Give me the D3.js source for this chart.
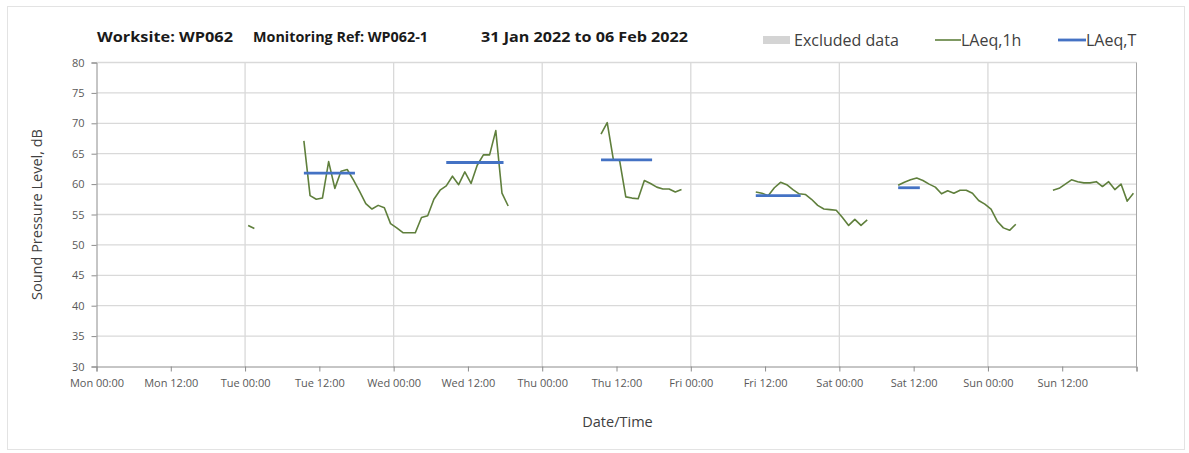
<!DOCTYPE html>
<html>
<head>
  <meta charset="utf-8">
  <script src="https://d3js.org/d3.v7.min.js"></script>
  <style>
    body { margin: 0; background: #fff; }
    text { font-family: "Open Sans", "Noto Sans", sans-serif; }
  </style>
</head>
<body>
<script>
  "use strict";

  /*
    Data: hourly LAeq values, one point per hour
    plotted at hh:30, grouped in the runs where the line is unbroken
  */
  var weekStart = new Date(2022, 0, 31, 0, 0);
  var weekEnd = new Date(2022, 1, 7, 0, 0);

  var segmentStarts = ["2022-02-01 00:30", "2022-02-01 09:30", "2022-02-03 09:30",
                       "2022-02-04 10:30", "2022-02-05 09:30", "2022-02-06 10:30"];

  var tueEarly = [53.2, 52.7];
  var tueWed = [67.1, 58.1, 57.5, 57.7, 63.7, 59.3, 62.1, 62.4, 60.7, 58.8, 56.8, 55.9,
                56.5, 56.1, 53.5, 52.8, 52.0, 52.0, 52.0, 54.5, 54.8, 57.5, 59.0, 59.7,
                61.3, 59.9, 62.0, 60.1, 63.1, 64.8, 64.8, 68.8, 58.5, 56.4];
  var thu = [68.2, 70.1, 64.0, 63.9, 57.9, 57.7, 57.6, 60.6, 60.1, 59.5, 59.2, 59.2, 58.7, 59.1];
  var friSat = [58.7, 58.5, 58.1, 59.4, 60.3, 59.9, 59.1, 58.4, 58.3, 57.5, 56.5, 55.9,
                55.8, 55.7, 54.5, 53.2, 54.2, 53.2, 54.1];
  var satSun = [59.8, 60.3, 60.7, 61.0, 60.6, 60.0, 59.5, 58.4, 58.9, 58.5, 59.0, 59.0,
                58.5, 57.3, 56.7, 55.9, 53.9, 52.8, 52.4, 53.4];
  var sun = [59.0, 59.3, 60.0, 60.7, 60.4, 60.2, 60.2, 60.4, 59.6, 60.4, 59.1, 60.0, 57.2, 58.5];

  var segmentValues = [tueEarly, tueWed, thu, friSat, satSun, sun];

  // LAeq,T periods (one horizontal bar each)
  var periodStarts = ["2022-02-01 09:30", "2022-02-02 08:30", "2022-02-03 09:30",
                      "2022-02-04 10:30", "2022-02-05 09:30"];
  var periodEnds = ["2022-02-01 17:45", "2022-02-02 17:45", "2022-02-03 17:45",
                    "2022-02-04 17:45", "2022-02-05 13:00"];
  var periodValues = [61.8, 63.55, 64.0, 58.1, 59.4];

  var yTicks = [30, 35, 40, 45, 50, 55, 60, 65, 70, 75, 80];

  var parseTime = d3.timeParse("%Y-%m-%d %H:%M");
  var hourMs = 3600 * 1000;

  var segments = segmentValues.map(function(vals, i) {
    var t0 = parseTime(segmentStarts[i]);
    return vals.map(function(v, j) {
      return { t: new Date(t0.getTime() + j * hourMs), v: v };
    });
  });

  var periods = periodValues.map(function(v, i) {
    return { t0: parseTime(periodStarts[i]), t1: parseTime(periodEnds[i]), v: v };
  });

  /*
    Layout
  */
  var W = 1189, H = 453;
  var plot = { left: 96.5, right: 1136.5, top: 62.5, bottom: 366.5 };

  var svg = d3.select("body").append("svg")
      .attr("width", W)
      .attr("height", H);

  svg.append("rect")
      .attr("x", 7.5).attr("y", 6.5)
      .attr("width", 1177).attr("height", 443)
      .attr("fill", "#fff")
      .attr("stroke", "#e3e3e3");

  var x = d3.scaleTime().domain([weekStart, weekEnd]).range([plot.left, plot.right]);
  var y = d3.scaleLinear().domain([30, 80]).range([plot.bottom, plot.top]);

  // horizontal gridlines
  svg.append("g")
    .selectAll("line")
    .data(yTicks.filter(function(d) { return d > 30; }))
    .join("line")
      .attr("x1", plot.left).attr("x2", plot.right)
      .attr("y1", function(d) { return y(d); })
      .attr("y2", function(d) { return y(d); })
      .attr("stroke", "#d9d9d9")
      .attr("stroke-width", 1.3);

  // vertical gridlines at midnight
  var days = d3.timeDay.range(d3.timeDay.offset(weekStart, 1), weekEnd);
  svg.append("g")
    .selectAll("line")
    .data(days)
    .join("line")
      .attr("x1", function(d) { return x(d); })
      .attr("x2", function(d) { return x(d); })
      .attr("y1", plot.top).attr("y2", plot.bottom)
      .attr("stroke", "#d9d9d9")
      .attr("stroke-width", 1.3);

  svg.append("line")
      .attr("x1", plot.right).attr("x2", plot.right)
      .attr("y1", plot.top).attr("y2", plot.bottom)
      .attr("stroke", "#a6a6a6");

  // y axis
  var yAxis = d3.axisLeft(y).tickValues(yTicks).tickSize(5).tickPadding(7).tickFormat(d3.format("d"));
  var gy = svg.append("g")
      .attr("transform", "translate(" + plot.left + ",0)")
      .call(yAxis);
  gy.select(".domain").attr("stroke", "#8c8c8c");
  gy.selectAll(".tick line").attr("stroke", "#8c8c8c");
  gy.selectAll(".tick text")
      .attr("fill", "#595959")
      .style("font-size", "11px")
      .style("font-family", "'Open Sans', sans-serif");

  // x axis, ticks every 12 hours
  var xTicks = d3.timeHour.every(12).range(weekStart, d3.timeHour.offset(weekEnd, 1));
  var xAxis = d3.axisBottom(x)
      .tickValues(xTicks)
      .tickSize(5)
      .tickPadding(8)
      .tickFormat(function(d) { return +d === +weekEnd ? "" : d3.timeFormat("%a %H:%M")(d); });
  var gx = svg.append("g")
      .attr("transform", "translate(0," + plot.bottom + ")")
      .call(xAxis);
  gx.select(".domain").attr("stroke", "#8c8c8c");
  gx.selectAll(".tick line").attr("stroke", "#8c8c8c");
  gx.selectAll(".tick text")
      .attr("fill", "#595959")
      .style("font-size", "11px")
      .style("font-family", "'Open Sans', sans-serif");

  // LAeq,1h line
  var line = d3.line()
      .x(function(d) { return x(d.t); })
      .y(function(d) { return y(d.v); });

  svg.append("g")
    .selectAll("path")
    .data(segments)
    .join("path")
      .attr("d", line)
      .attr("fill", "none")
      .attr("stroke", "#5f7f3c")
      .attr("stroke-width", 1.6)
      .attr("stroke-linejoin", "round");

  // LAeq,T bars
  svg.append("g")
    .selectAll("line")
    .data(periods)
    .join("line")
      .attr("x1", function(d) { return x(d.t0); })
      .attr("x2", function(d) { return x(d.t1); })
      .attr("y1", function(d) { return y(d.v); })
      .attr("y2", function(d) { return y(d.v); })
      .attr("stroke", "#4472c4")
      .attr("stroke-width", 2.8);

  /*
    Titles and legend
  */
  var titleParts = [["Worksite: WP062", 97, 136], ["Monitoring Ref: WP062-1", 253, 175],
                    ["31 Jan 2022 to 06 Feb 2022", 481, 207]];
  svg.selectAll(".title")
    .data(titleParts)
    .join("text")
      .attr("class", "title")
      .attr("x", function(d) { return d[1]; })
      .attr("y", 42)
      .attr("textLength", function(d) { return d[2]; })
      .attr("lengthAdjust", "spacingAndGlyphs")
      .attr("fill", "#1a1a1a")
      .style("font-size", "14.5px")
      .style("font-weight", "bold")
      .text(function(d) { return d[0]; });

  svg.append("rect")
      .attr("x", 763).attr("y", 36)
      .attr("width", 27).attr("height", 8)
      .attr("fill", "#d4d4d4");
  svg.append("text").attr("x", 794).attr("y", 46)
      .attr("fill", "#404040").style("font-size", "16px").text("Excluded data");

  svg.append("line").attr("x1", 935).attr("x2", 961).attr("y1", 40).attr("y2", 40)
      .attr("stroke", "#5f7f3c").attr("stroke-width", 1.6);
  svg.append("text").attr("x", 961).attr("y", 46)
      .attr("fill", "#404040").style("font-size", "16px").text("LAeq,1h");

  svg.append("line").attr("x1", 1058).attr("x2", 1086).attr("y1", 40).attr("y2", 40)
      .attr("stroke", "#4472c4").attr("stroke-width", 2.8);
  svg.append("text").attr("x", 1086).attr("y", 46)
      .attr("fill", "#404040").style("font-size", "16px").text("LAeq,T");

  svg.append("text")
      .attr("transform", "translate(42," + ((plot.top + plot.bottom) / 2) + ") rotate(-90)")
      .attr("text-anchor", "middle")
      .attr("fill", "#404040")
      .style("font-size", "14.5px")
      .text("Sound Pressure Level, dB");

  svg.append("text")
      .attr("x", (plot.left + plot.right) / 2 + 1)
      .attr("y", 427)
      .attr("text-anchor", "middle")
      .attr("fill", "#404040")
      .style("font-size", "14.5px")
      .text("Date/Time");
</script>
</body>
</html>
